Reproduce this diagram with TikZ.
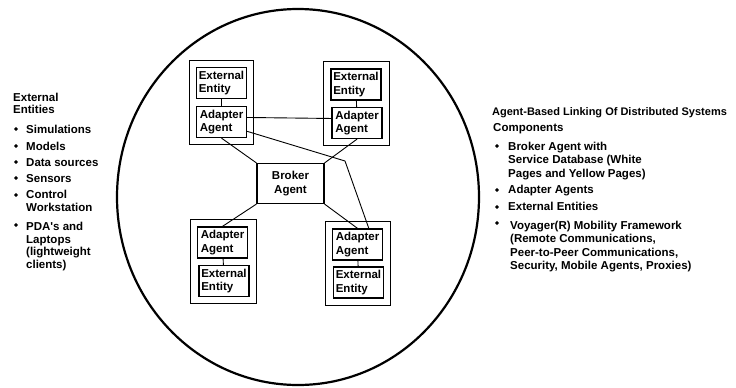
\documentclass[tikz,border=0pt]{standalone}
\usepackage{fontspec}
\setmainfont{Liberation Sans}
\usetikzlibrary{fit}

\tikzset{
  box/.style={draw, line width=1.3pt, minimum width=50pt, minimum height=31pt, inner sep=0pt, align=left},
  broker/.style={draw, line width=1.2pt, minimum width=67pt, minimum height=40pt, inner sep=0pt, align=center},
  group/.style={draw, line width=1pt, inner sep=6.5pt},
  link/.style={line width=0.9pt},
  txt/.style={anchor=north west, inner sep=0pt, align=left, execute at begin node=\strut},
}

\begin{document}
\begin{tikzpicture}[x=1pt, y=-1pt, font=\fontsize{11.5}{13.5}\selectfont\bfseries]
\useasboundingbox (0,0) rectangle (736,388);

\def\br{1.7pt}; % bullet radius

% the big circle
\draw[line width=2.2pt] (298,197) ellipse [x radius=181, y radius=188];

% top left
\node[box] (eeTL) at (221.5,83) {External\\Entity};
\node[box] (aaTL) at (221.5,122) {Adapter\\Agent};
\node[group, fit=(eeTL)(aaTL)] (grpTL) {};

% top right
\node[box] (eeTR) at (356,84.5) {External\\Entity};
\node[box] (aaTR) at (357,123) {Adapter\\Agent};
\node[group, fit=(eeTR)(aaTR)] (grpTR) {};

% bottom left
\node[box] (aaBL) at (222.5,242.5) {Adapter\\Agent};
\node[box] (eeBL) at (224,281) {External\\Entity};
\node[group, fit=(aaBL)(eeBL)] (grpBL) {};

% bottom right
\node[box] (aaBR) at (357.5,244.5) {Adapter\\Agent};
\node[box] (eeBR) at (358.5,282.5) {External\\Entity};
\node[group, fit=(aaBR)(eeBR)] (grpBR) {};

\node[broker] (brk) at (290.5,183.5) {Broker\\Agent};

\coordinate (bend) at (345,161);

\draw[link] (eeTL) -- (aaTL);
\draw[link] (eeTR) -- (aaTR);
\draw[link] (aaBL) -- (eeBL);
\draw[link] (aaBR) -- (eeBR);

\draw[link] (aaTL.10) -- (aaTR.170);
\draw[link] (aaTL.-20) -- (bend) -- (aaBR.55);
\draw[link] (aaTL.south) -- (brk.north west);
\draw[link] (aaTR.south) -- (brk.north east);
\draw[link] (brk.south west) -- (aaBL.north);
\draw[link] (brk.south east) -- (aaBR.north);

% left list
\begin{scope}[font=\fontsize{11.5}{12.5}\selectfont\bfseries]
\node[txt] (extHead) at (13,92.75) {External\\Entities};
\node[txt] (sim) at (26,124.25) {Simulations};
\node[txt] (mod) at (26,141.25) {Models};
\node[txt] (dat) at (26,157.25) {Data sources};
\node[txt] (sen) at (26,173.25) {Sensors};
\node[txt] (ctl) at (26,190.25) {Control\\Workstation};
\node[txt] (pda) at (26,222.25) {PDA\textquotesingle s and\\Laptops\\(lightweight\\clients)};
\end{scope}

\filldraw[black] (16,129) circle (\br);
\filldraw[black] (16,146) circle (\br);
\filldraw[black] (16,162) circle (\br);
\filldraw[black] (16,178) circle (\br);
\filldraw[black] (16,195) circle (\br);
\filldraw[black] (16,225) circle (\br);

% right list
\node[txt, font=\fontsize{11}{13.5}\selectfont\bfseries] (title) at (492,105.55) {Agent-Based Linking Of Distributed Systems};
\node[txt] (comp) at (493,121.55) {Components};
\node[txt] (itBroker) at (508,141.55) {Broker Agent with\\Service Database (White\\Pages and Yellow Pages)};
\node[txt] (itAdapter) at (508,183.55) {Adapter Agents};
\node[txt] (itExternal) at (508,200.55) {External Entities};
\node[txt] (itVoyager) at (510,220.55) {Voyager(R) Mobility Framework\\(Remote Communications,\\Peer-to-Peer Communications,\\Security, Mobile Agents, Proxies)};

\filldraw[black] (497,146) circle (\br);
\filldraw[black] (497,190) circle (\br);
\filldraw[black] (497,207) circle (\br);
\filldraw[black] (497,223) circle (\br);

\end{tikzpicture}
\end{document}
